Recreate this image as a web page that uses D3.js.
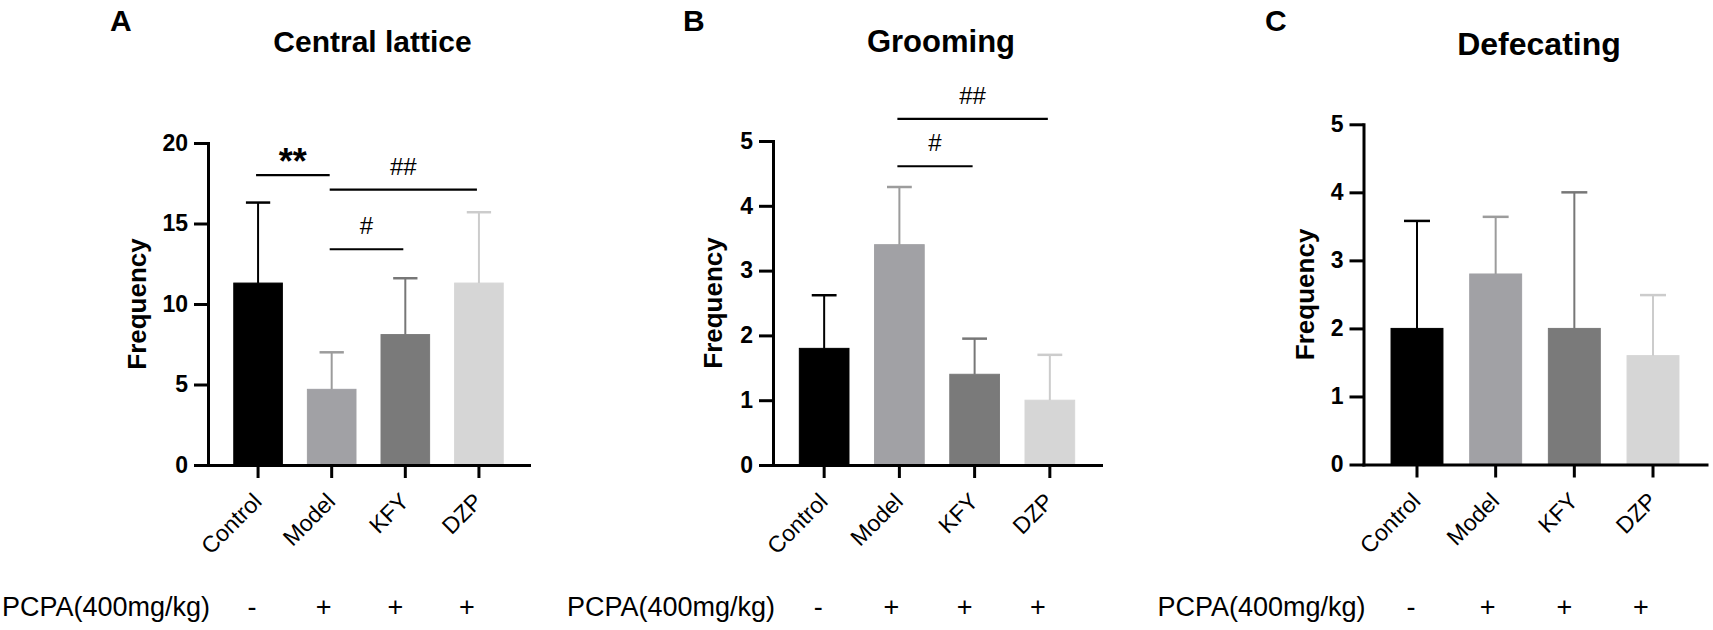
<!DOCTYPE html>
<html>
<head>
<meta charset="utf-8">
<script src="https://cdn.jsdelivr.net/npm/d3@7"></script>
<style>
  body { margin: 0; background: #fff; }
  svg text { font-family: "Liberation Sans", Arial, sans-serif; }
</style>
</head>
<body>
<svg id="chart" width="1713" height="630"></svg>
<script>
// groups and PCPA treatment row
const groups = ["Control", "Model", "KFY", "DZP"];
const pcpaSigns = ["-", "+", "+", "+"];

// Central lattice (mean, error)
const latticeMean = [11.3, 4.7, 8.1, 11.3];
const latticeErr = [5.0, 2.3, 3.5, 4.4];
const latticeTicks = [0, 5, 10, 15, 20];
const latticeSig = [
    { from: "Control", to: "Model", y: 18.0, label: "**" },
    { from: "Model", to: "DZP", y: 17.1, label: "##" },
    { from: "Model", to: "KFY", y: 13.4, label: "#" }
];

// Grooming
const groomingMean = [1.8, 3.4, 1.4, 1.0];
const groomingErr = [0.82, 0.89, 0.55, 0.7];
const groomingTicks = [0, 1, 2, 3, 4, 5];
const groomingSig = [
    { from: "Model", to: "DZP", y: 5.34, label: "##" },
    { from: "Model", to: "KFY", y: 4.61, label: "#" }
];

// Defecating
const defecatingMean = [2.0, 2.8, 2.0, 1.6];
const defecatingErr = [1.58, 0.84, 2.0, 0.89];
const defecatingTicks = [0, 1, 2, 3, 4, 5];
const defecatingSig = [];

const barColors = ["#000000", "#a1a1a5", "#7a7a7a", "#d6d6d6"];
const errColors = ["#000000", "#9c9c9c", "#777777", "#cccccc"];

const svg = d3.select("#chart");

const panels = [
    { letter: "A", title: "Central lattice", mean: latticeMean, err: latticeErr, ticks: latticeTicks, sig: latticeSig,
      max: 20, left: 208, right: 529, top: 143, bottom: 465, letterX: 110, titleSize: 30, titleY: 52, ylabOff: 62 },
    { letter: "B", title: "Grooming", mean: groomingMean, err: groomingErr, ticks: groomingTicks, sig: groomingSig,
      max: 5, left: 773, right: 1101, top: 141, bottom: 465, letterX: 683, titleSize: 31, titleY: 52, ylabOff: 51 },
    { letter: "C", title: "Defecating", mean: defecatingMean, err: defecatingErr, ticks: defecatingTicks, sig: defecatingSig,
      max: 5, left: 1363.5, right: 1706.5, top: 124.3, bottom: 464.5, letterX: 1265, titleSize: 32, titleY: 55, ylabOff: 50 }
];

panels.forEach(p => drawPanel(p));

function drawPanel(p) {
    const g = svg.append("g");
    const x = d3.scaleBand().domain(groups).range([p.left, p.right]).paddingInner(0.34).paddingOuter(0.35);
    const y = d3.scaleLinear().domain([0, p.max]).range([p.bottom, p.top]);
    const bw = x.bandwidth();
    const cx = d => x(d) + bw / 2;

    // bars
    g.selectAll("rect.bar").data(groups).enter().append("rect")
        .attr("class", "bar")
        .attr("x", d => x(d))
        .attr("width", bw)
        .attr("y", (d, i) => y(p.mean[i]))
        .attr("height", (d, i) => y(0) - y(p.mean[i]))
        .attr("fill", (d, i) => barColors[i])
        .attr("stroke", (d, i) => barColors[i])
        .attr("stroke-width", 1);

    // upper error bars
    groups.forEach((d, i) => {
        const top = y(p.mean[i] + p.err[i]);
        g.append("line").attr("x1", cx(d)).attr("x2", cx(d))
            .attr("y1", y(p.mean[i])).attr("y2", top)
            .attr("stroke", errColors[i]).attr("stroke-width", 2);
        g.append("line").attr("x1", cx(d) - bw / 4).attr("x2", cx(d) + bw / 4)
            .attr("y1", top).attr("y2", top)
            .attr("stroke", errColors[i]).attr("stroke-width", 2.5);
    });

    // y axis
    const yAxis = g.append("g").attr("transform", `translate(${p.left},0)`)
        .call(d3.axisLeft(y).tickValues(p.ticks).tickFormat(d3.format("d"))
            .tickSize(14).tickSizeOuter(0).tickPadding(6));
    yAxis.select(".domain").attr("stroke-width", 3).attr("stroke-linecap", "square");
    yAxis.selectAll(".tick line").attr("stroke-width", 3);
    yAxis.selectAll(".tick text").attr("font-size", 23).attr("font-weight", "bold")
        .attr("font-family", "'Liberation Sans', Arial, sans-serif").attr("fill", "#000");

    // x axis
    const xAxis = g.append("g").attr("transform", `translate(0,${y(0)})`)
        .call(d3.axisBottom(x).tickSize(13).tickSizeOuter(0).tickFormat(""));
    xAxis.select(".domain").attr("stroke-width", 3).attr("stroke-linecap", "square");
    xAxis.selectAll(".tick line").attr("stroke-width", 3);

    // rotated category labels
    g.selectAll("text.cat").data(groups).enter().append("text")
        .attr("class", "cat")
        .attr("text-anchor", "end")
        .attr("font-size", 23)
        .attr("transform", d => `translate(${cx(d) + 5},${y(0) + 38}) rotate(-45)`)
        .text(d => d);

    // y label
    g.append("text")
        .attr("transform", `translate(${p.left - p.ylabOff},${(p.top + p.bottom) / 2}) rotate(-90)`)
        .attr("text-anchor", "middle")
        .attr("font-size", 26).attr("font-weight", "bold")
        .text("Frequency");

    // title and panel letter
    g.append("text")
        .attr("x", (cx(groups[0]) + cx(groups[3])) / 2 + 4).attr("y", p.titleY)
        .attr("text-anchor", "middle")
        .attr("font-size", p.titleSize).attr("font-weight", "bold")
        .text(p.title);
    g.append("text")
        .attr("x", p.letterX).attr("y", 31)
        .attr("font-size", 30).attr("font-weight", "bold")
        .text(p.letter);

    // significance marks
    p.sig.forEach(s => {
        const ly = y(s.y);
        g.append("line").attr("x1", cx(s.from) - 2).attr("x2", cx(s.to) - 2)
            .attr("y1", ly).attr("y2", ly)
            .attr("stroke", "#000").attr("stroke-width", 2.2);
        const isStar = s.label.includes("*");
        g.append("text")
            .attr("x", (cx(s.from) + cx(s.to)) / 2 - 2)
            .attr("y", isStar ? ly - 1 : ly - 15)
            .attr("text-anchor", "middle")
            .attr("font-size", isStar ? 36 : 24)
            .attr("font-weight", isStar ? "bold" : "normal")
            .attr("font-family", isStar ? "'Liberation Sans', Arial, sans-serif" : "'Liberation Serif', 'Times New Roman', serif")
            .text(s.label);
    });

    // PCPA row
    const signX = d3.scalePoint().domain(groups).range([cx(groups[0]) - 6, cx(groups[3]) - 12]);
    g.append("text")
        .attr("x", p.left + 2).attr("y", 616)
        .attr("text-anchor", "end")
        .attr("font-size", 27)
        .text("PCPA(400mg/kg)");
    g.selectAll("text.sign").data(groups).enter().append("text")
        .attr("class", "sign")
        .attr("x", d => signX(d)).attr("y", 616)
        .attr("text-anchor", "middle")
        .attr("font-size", 27)
        .text((d, i) => pcpaSigns[i]);
}
</script>
</body>
</html>
